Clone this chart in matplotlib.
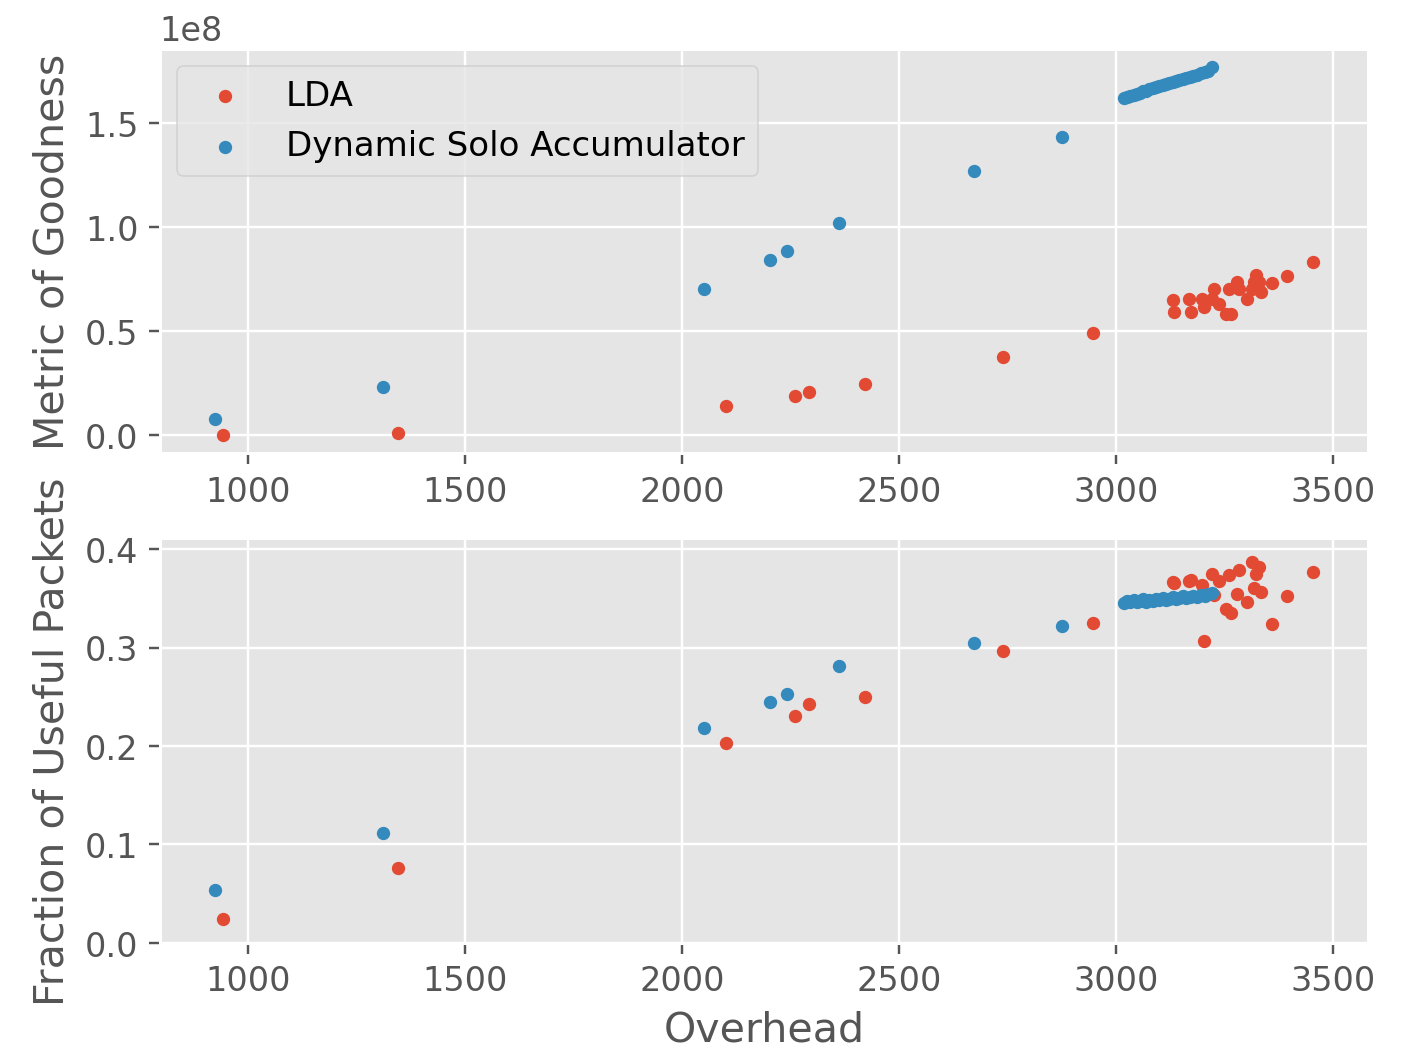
import numpy as np
import matplotlib
matplotlib.use("Agg")
import matplotlib.pyplot as plt

plt.style.use("ggplot")

# LDA runs: overhead, goodness metric (x1e8), fraction of useful packets
lda_overhead = [942, 1346, 2102, 2261, 2293, 2423, 2739, 2947,
                3131, 3133, 3168, 3172, 3198, 3202, 3221, 3225, 3237, 3253,
                3265, 3260, 3278, 3283, 3301, 3313, 3318, 3322, 3329, 3334,
                3359, 3394, 3454]
lda_goodness = [0.000, 0.010, 0.140, 0.187, 0.206, 0.244, 0.373, 0.488,
                0.650, 0.592, 0.655, 0.592, 0.655, 0.616, 0.655, 0.702, 0.631, 0.583,
                0.583, 0.702, 0.736, 0.702, 0.655, 0.702, 0.736, 0.769, 0.736, 0.688,
                0.731, 0.764, 0.831]
lda_useful = [0.024, 0.076, 0.203, 0.231, 0.243, 0.250, 0.297, 0.325,
              0.367, 0.366, 0.368, 0.369, 0.364, 0.307, 0.375, 0.353, 0.368, 0.339,
              0.335, 0.374, 0.354, 0.379, 0.346, 0.387, 0.361, 0.375, 0.382, 0.356,
              0.324, 0.352, 0.377]

# Dynamic Solo Accumulator runs
dsa_overhead = [924, 1312, 2051, 2203, 2243, 2363, 2672, 2875,
                3018, 3026, 3033, 3041, 3048, 3055, 3062, 3070, 3077, 3085,
                3092, 3100, 3108, 3115, 3123, 3131, 3138, 3146, 3154, 3162,
                3170, 3178, 3186, 3195, 3204, 3212, 3221]
dsa_goodness = [0.077, 0.230, 0.700, 0.840, 0.885, 1.020, 1.270, 1.430,
                1.620, 1.624, 1.630, 1.636, 1.640, 1.645, 1.652, 1.655, 1.662, 1.667,
                1.671, 1.676, 1.683, 1.686, 1.692, 1.697, 1.702, 1.706, 1.712, 1.716,
                1.722, 1.727, 1.732, 1.738, 1.744, 1.750, 1.768]
dsa_useful = [0.054, 0.112, 0.218, 0.245, 0.253, 0.281, 0.305, 0.322,
              0.345, 0.347, 0.346, 0.348, 0.346, 0.347, 0.349, 0.346, 0.348, 0.347,
              0.349, 0.348, 0.350, 0.348, 0.349, 0.351, 0.349, 0.350, 0.352, 0.350,
              0.351, 0.352, 0.351, 0.353, 0.352, 0.354, 0.355]

fig, (ax1, ax2) = plt.subplots(2, 1, figsize=(6.4, 4.826), dpi=219)
fig.subplots_adjust(left=0.114, right=0.976, top=0.953, bottom=0.107, hspace=0.21)

ax1.scatter(lda_overhead, np.array(lda_goodness) * 1e8, s=15, label="LDA")
ax1.scatter(dsa_overhead, np.array(dsa_goodness) * 1e8, s=15,
            label="Dynamic Solo Accumulator")
ax1.set_ylabel("Metric of Goodness", fontsize=13.5)
ax1.legend(loc="upper left", fontsize=11.2)

ax2.scatter(lda_overhead, lda_useful, s=15)
ax2.scatter(dsa_overhead, dsa_useful, s=15)
ax2.set_ylim(0.0, 0.411)
ax2.set_ylabel("Fraction of Useful Packets", fontsize=13.5)
ax2.set_xlabel("Overhead", fontsize=13.5)

for ax in (ax1, ax2):
    ax.tick_params(labelsize=11)
    ax.yaxis.get_offset_text().set_fontsize(11)

fig.savefig("out.png")
